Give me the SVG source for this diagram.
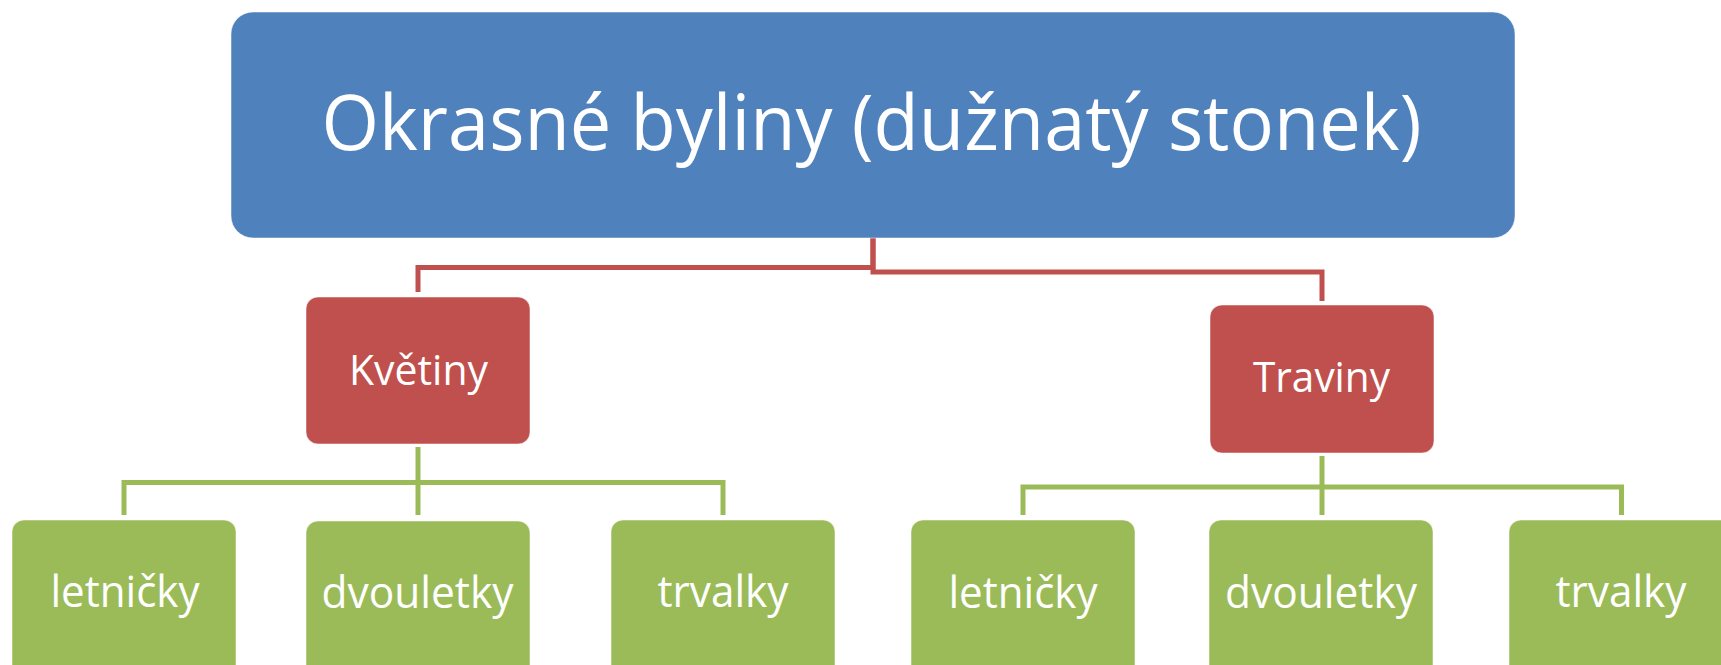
<svg xmlns="http://www.w3.org/2000/svg" width="1721" height="665" viewBox="0 0 1721 665">
<style>
.bg{fill:#ffffff}
.blue{fill:#4F81BD;stroke:#ffffff;stroke-opacity:0.5;stroke-width:1}
.red{fill:#C0504D;stroke:#ffffff;stroke-opacity:0.5;stroke-width:1}
.green{fill:#9BBB59;stroke:#ffffff;stroke-opacity:0.5;stroke-width:1}
.lr{fill:none;stroke:#C0504D;stroke-width:5}
.lg{fill:none;stroke:#9BBB59;stroke-width:5}
text{fill:#ffffff;font-family:"Open Sans","Noto Sans","DejaVu Sans",sans-serif;text-anchor:middle}
.t1{font-size:77px}
.t2{font-size:42px}
.t3{font-size:43px}
</style>
<rect class="bg" x="0" y="0" width="1721" height="665"/>
<g id="connectors">
  <path class="lr" d="M873,238 V267.5 H418 V292"/>
  <path class="lr" d="M873,238 V272 H1322 V301"/>
  <path class="lg" d="M418,447 V515"/>
  <path class="lg" d="M124,515 V482.5 H723 V515"/>
  <path class="lg" d="M1322,456 V515"/>
  <path class="lg" d="M1023,515 V487 H1621.5 V515"/>
</g>
<g id="root">
  <rect class="blue" x="231" y="12" width="1284" height="226" rx="22"/>
  <text class="t1" x="871.5" y="150" textLength="1100" lengthAdjust="spacingAndGlyphs">Okrasné byliny (dužnatý stonek)</text>
</g>
<g id="kvetiny">
  <rect class="red" x="306" y="297" width="224" height="147" rx="12"/>
  <text class="t2" x="418.5" y="385" textLength="139" lengthAdjust="spacingAndGlyphs">Květiny</text>
</g>
<g id="traviny">
  <rect class="red" x="1210" y="305" width="224" height="148" rx="12"/>
  <text class="t2" x="1321.5" y="392" textLength="137" lengthAdjust="spacingAndGlyphs">Traviny</text>
</g>
<g id="letnicky1">
  <rect class="green" x="12" y="520" width="224" height="160" rx="12"/>
  <text class="t3" x="125" y="607" textLength="149" lengthAdjust="spacingAndGlyphs">letničky</text>
</g>
<g id="dvouletky1">
  <rect class="green" x="306" y="521" width="224" height="160" rx="12"/>
  <text class="t3" x="417.5" y="608" textLength="192" lengthAdjust="spacingAndGlyphs">dvouletky</text>
</g>
<g id="trvalky1">
  <rect class="green" x="611" y="520" width="224" height="160" rx="12"/>
  <text class="t3" x="723" y="607" textLength="131" lengthAdjust="spacingAndGlyphs">trvalky</text>
</g>
<g id="letnicky2">
  <rect class="green" x="911" y="520" width="224" height="160" rx="12"/>
  <text class="t3" x="1023" y="608" textLength="149" lengthAdjust="spacingAndGlyphs">letničky</text>
</g>
<g id="dvouletky2">
  <rect class="green" x="1209" y="520" width="224" height="160" rx="12"/>
  <text class="t3" x="1321" y="608" textLength="192" lengthAdjust="spacingAndGlyphs">dvouletky</text>
</g>
<g id="trvalky2">
  <rect class="green" x="1509" y="520" width="224" height="160" rx="12"/>
  <text class="t3" x="1621" y="607" textLength="131" lengthAdjust="spacingAndGlyphs">trvalky</text>
</g>
</svg>
